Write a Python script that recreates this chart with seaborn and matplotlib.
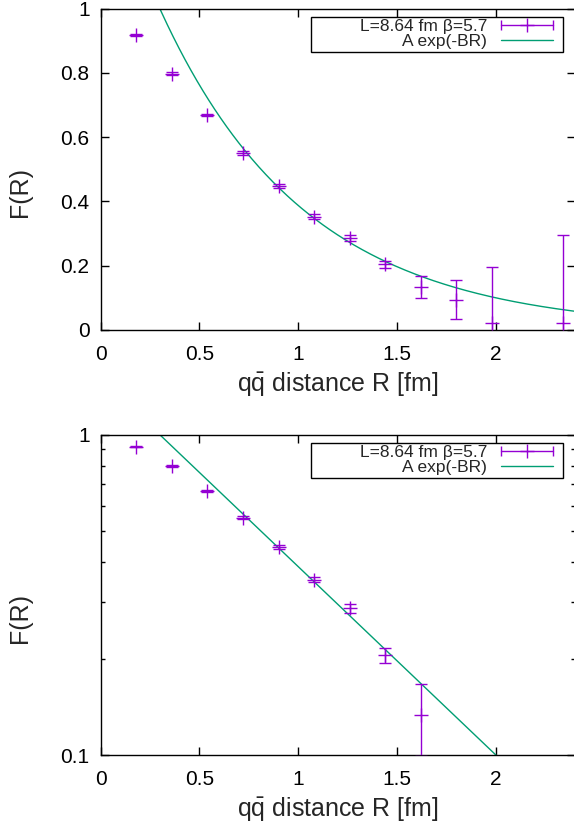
"""
Static F(R) vs q-qbar distance, linear and log panels, with exponential fit.
"""

import numpy as np
import matplotlib
matplotlib.use("Agg")
import matplotlib.pyplot as plt
import matplotlib.ticker as mticker
from matplotlib.lines import Line2D
from matplotlib.patches import Rectangle
from matplotlib.legend_handler import HandlerLine2D, HandlerTuple
import seaborn as sns

# ─────────────────────────────────────────────────────────────────
# DATA
# ─────────────────────────────────────────────────────────────────
R_FM   = [0.18, 0.36, 0.54, 0.72, 0.90, 1.08, 1.26, 1.44, 1.62, 1.80, 1.98, 2.34]
F_R    = [0.918, 0.798, 0.669, 0.551, 0.447, 0.353, 0.287, 0.205, 0.133, 0.094, 0.021, 0.021]
F_ERR  = [0.003, 0.004, 0.004, 0.005, 0.006, 0.007, 0.009, 0.011, 0.034, 0.061, 0.176, 0.275]

FIT_A  = 1.50
FIT_B  = 1.354

X_TICKS     = [0, 0.5, 1, 1.5, 2]
Y_TICKS_LIN = [0, 0.2, 0.4, 0.6, 0.8, 1]
Y_TICKS_LOG = [0.1, 1]

LABEL_DATA = "L=8.64 fm β=5.7"
LABEL_FIT  = "A exp(-BR)"
X_LABEL    = r"q$\bar{\mathrm{q}}$ distance R [fm]"
Y_LABEL    = "F(R)"

# ─────────────────────────────────────────────────────────────────
# CONFIG
# ─────────────────────────────────────────────────────────────────
PURPLE = "#9400d3"
GREEN  = "#009e73"

sns.set_theme(style="ticks")
plt.rcParams["font.family"] = ["Liberation Sans", "DejaVu Sans"]
plt.rcParams["mathtext.fontset"] = "custom"
plt.rcParams["mathtext.rm"] = "Liberation Sans"
plt.rcParams["mathtext.it"] = "Liberation Sans:italic"
plt.rcParams["axes.edgecolor"] = "black"
plt.rcParams["axes.linewidth"] = 1.0

r = np.array(R_FM)
f = np.array(F_R)
e = np.array(F_ERR)
r_fit = np.linspace(0, 2.4, 400)
f_fit = FIT_A * np.exp(-FIT_B * r_fit)

fig = plt.figure(figsize=(5.74, 8.27), dpi=100)
ax_lin = fig.add_axes([0.1754, 0.601, 0.8263, 0.3885])
ax_log = fig.add_axes([0.1754, 0.0870, 0.8263, 0.3873])


def style_axis(ax):
    ax.set_xlim(0, 2.4)
    ax.set_xticks(X_TICKS)
    ax.xaxis.set_major_formatter(mticker.FuncFormatter(lambda v, _: f"{v:g}"))
    ax.tick_params(which="both", direction="in", top=True, right=True,
                   colors="black", labelsize=15, width=1.0)
    ax.tick_params(which="major", length=6)
    ax.tick_params(which="minor", length=3)
    ax.tick_params(axis="x", pad=11)
    ax.tick_params(axis="y", pad=8)
    ax.set_xlabel(X_LABEL, fontsize=18, labelpad=4)
    ax.set_ylabel(Y_LABEL, fontsize=18, va="center")
    # gnuplot puts the y label a bit below the middle
    ax.yaxis.set_label_coords(-0.170, 0.428)
    for s in ax.spines.values():
        s.set_color("black")


def draw_panel(ax, mask):
    ax.errorbar(r[mask], f[mask], yerr=e[mask], fmt="+", color=PURPLE,
                ms=10, mew=1.0, elinewidth=1.0, capsize=4.5, capthick=1.0,
                zorder=3)
    sns.lineplot(x=r_fit, y=f_fit, ax=ax, color=GREEN, lw=1.0, zorder=2)

    # legend: gnuplot-like key, text right aligned, sample on the right
    h_caps = Line2D([], [], color=PURPLE, lw=1.0, marker="|", ms=6.5, mew=1.0)
    h_plus = Line2D([], [], color=PURPLE, ls="none", marker="+", ms=10, mew=1.0)
    h_fit = Line2D([], [], color=GREEN, lw=1.0)
    ax.legend([(h_caps, h_plus), h_fit], [LABEL_DATA, LABEL_FIT],
              handler_map={h_caps: HandlerLine2D(numpoints=2, marker_pad=0),
                           h_plus: HandlerLine2D(numpoints=1),
                           tuple: HandlerTuple(ndivide=1)},
              loc="center right", bbox_to_anchor=(0.954, 0.921),
              frameon=False, markerfirst=False, fontsize=12.5,
              handlelength=3.0, handletextpad=0.8, labelspacing=0.0,
              borderpad=0, borderaxespad=0)
    ax.add_patch(Rectangle((0.444, 0.866), 0.531, 0.107, transform=ax.transAxes,
                           fill=False, ec="black", lw=1.0, zorder=4))


# ─────────────────────────────────────────────────────────────────
# 1. LINEAR PANEL
# ─────────────────────────────────────────────────────────────────
draw_panel(ax_lin, np.ones(len(r), dtype=bool))
style_axis(ax_lin)
ax_lin.set_ylim(0, 1)
ax_lin.set_yticks(Y_TICKS_LIN)
ax_lin.yaxis.set_major_formatter(mticker.FuncFormatter(lambda v, _: f"{v:g}"))

# ─────────────────────────────────────────────────────────────────
# 2. LOG PANEL (points below the range are left out, as gnuplot does)
# ─────────────────────────────────────────────────────────────────
draw_panel(ax_log, f > 0.1)
ax_log.set_yscale("log")
style_axis(ax_log)
ax_log.set_ylim(0.1, 1)
ax_log.yaxis.set_major_locator(mticker.FixedLocator(Y_TICKS_LOG))
ax_log.yaxis.set_minor_locator(mticker.LogLocator(base=10, subs=np.arange(2, 10)))
ax_log.yaxis.set_major_formatter(mticker.FuncFormatter(lambda v, _: f"{v:g}"))
ax_log.yaxis.set_minor_formatter(mticker.NullFormatter())

fig.savefig("out.png", dpi=100)
